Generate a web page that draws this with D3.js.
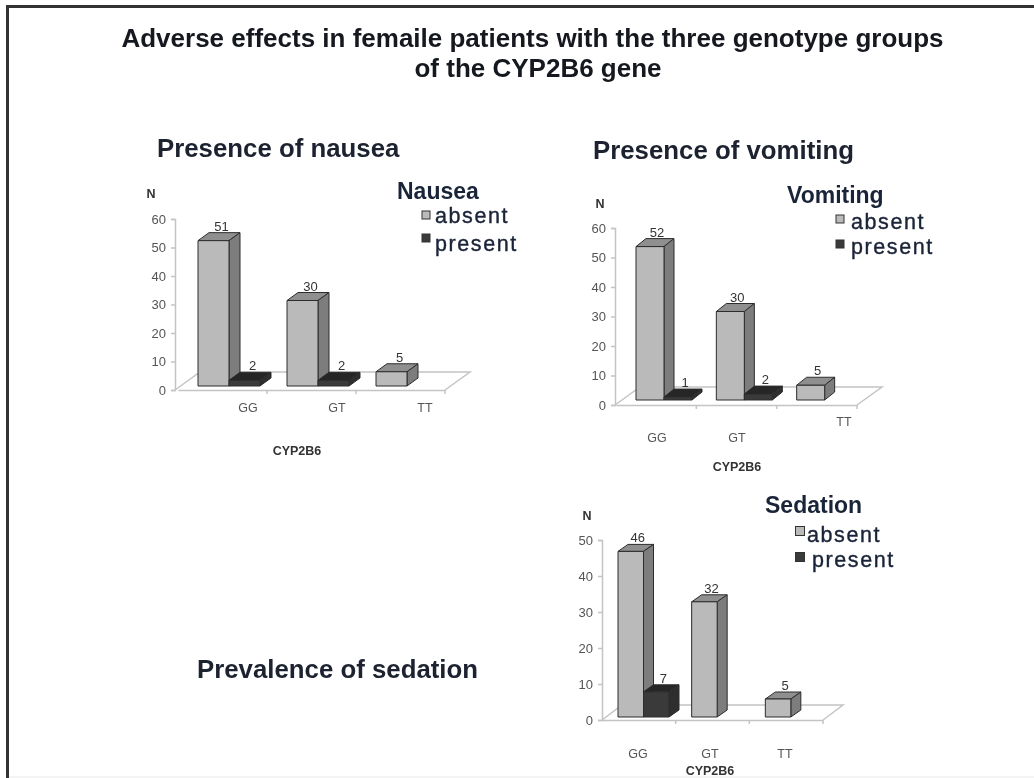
<!DOCTYPE html>
<html>
<head>
<meta charset="utf-8">
<script src="https://cdnjs.cloudflare.com/ajax/libs/d3/7.8.5/d3.min.js"></script>
<style>
  html, body { margin: 0; padding: 0; background: #fff; overflow: hidden; }
  svg { display: block; font-family: "Liberation Sans", Arial, sans-serif; filter: blur(0.5px); }
  .frame { fill: none; stroke: #333; stroke-width: 3; }
  .page-edge { stroke: #e8e8e8; stroke-width: 1; }
  .title { font-size: 26px; font-weight: bold; fill: #15181f; text-anchor: middle; }
  .heading { font-size: 25.8px; font-weight: bold; fill: #1c2230; }
  .legend-title { font-size: 23px; font-weight: bold; fill: #1a2438; }
  .legend-label { font-size: 21.5px; fill: #1a2438; stroke: #1a2438; stroke-width: 0.4; letter-spacing: 1.6px; }
  .tick text { font-size: 13px; fill: #555; }
  .cat-label { font-size: 12.5px; fill: #555; }
  .axis-name { font-size: 12.5px; font-weight: bold; fill: #333; text-anchor: middle; }
  .value-label { font-size: 13px; fill: #333; text-anchor: middle; }
  .axis path, .axis line, .floor { stroke: #c4c4c4; stroke-width: 1.5; fill: none; }
  .bar-face { stroke: #2c2c2c; stroke-width: 1; stroke-linejoin: round; }
</style>
</head>
<body>
<svg id="chart" width="1034" height="778"></svg>
<script>
const width = 1034, height = 778;

// ---------- data

const categories = ['GG', 'GT', 'TT'];
const groups = ['absent', 'present'];

const nauseaAbsent = [51, 30, 5];
const nauseaPresent = [2, 2, 0];
const vomitingAbsent = [52, 30, 5];
const vomitingPresent = [1, 2, 0];
const sedationAbsent = [46, 32, 5];
const sedationPresent = [7, 0, 0];

const titleLines = [
  'Adverse effects in femaile patients with the three genotype groups',
  'of the CYP2B6 gene'
];

// ---------- where each small chart sits

const panels = [
  {
    name: 'Nausea', heading: 'Presence of nausea', headingPos: [157, 157],
    absent: nauseaAbsent, present: nauseaPresent, yMax: 60,
    x0: 178, x1: 445, y0: 390, yTop: 219, axisX: 175,
    barOffset: 20, barW: 31, lift: 4, dx: 11, dy: 8, floorDx: 25, floorDy: 18,
    catPos: [[248, 412], [337, 412], [425, 412]], axisName: [297, 455], nPos: [151, 198],
    legendTitle: [397, 199], legendText: [[435, 223], [435, 251]], legendMark: [[426, 215], [426, 238]], markSize: 8
  },
  {
    name: 'Vomiting', heading: 'Presence of vomiting', headingPos: [593, 159],
    absent: vomitingAbsent, present: vomitingPresent, yMax: 60,
    x0: 616, x1: 857, y0: 405, yTop: 228, axisX: 615,
    barOffset: 20, barW: 28, lift: 5, dx: 10, dy: 8, floorDx: 25, floorDy: 18,
    catPos: [[657, 442], [737, 442], [844, 426]], axisName: [737, 471], nPos: [600, 208],
    legendTitle: [787, 203], legendText: [[851, 229], [851, 254]], legendMark: [[840, 219], [840, 244]], markSize: 8
  },
  {
    name: 'Sedation', heading: 'Prevalence of sedation', headingPos: [197, 678],
    absent: sedationAbsent, present: sedationPresent, yMax: 50,
    x0: 602, x1: 823, y0: 720, yTop: 540, axisX: 602,
    barOffset: 16, barW: 25.5, lift: 3, dx: 10, dy: 7, floorDx: 20, floorDy: 15,
    catPos: [[638, 758], [710, 758], [785, 758]], axisName: [710, 775], nPos: [587, 520],
    legendTitle: [765, 513], legendText: [[807, 542], [812, 567]], legendMark: [[800, 531], [800, 557]], markSize: 9
  }
];

const faceColors = {
  absent: { front: '#bababa', top: '#8f8f8f', side: '#7d7d7d' },
  present: { front: '#3a3a3a', top: '#262626', side: '#2e2e2e' }
};

const svg = d3.select('#chart');

// page frame, only top and left edges are visible in the crop
svg.append('path')
  .attr('class', 'frame')
  .attr('d', d3.line()([[7.5, height], [7.5, 6.5], [width, 6.5]]));

svg.append('line')
  .attr('class', 'page-edge')
  .attr('x1', 9).attr('x2', width)
  .attr('y1', 777).attr('y2', 777);

// second title line is not quite centred under the first
svg.selectAll('.title')
  .data(titleLines)
  .join('text')
  .attr('class', 'title')
  .attr('x', (d, i) => i === 0 ? 532.5 : 538)
  .attr('y', (d, i) => 47 + i * 30)
  .text(d => d);

panels.forEach(drawPanel);

function drawPanel(p) {
  const g = svg.append('g');

  const yScale = d3.scaleLinear().domain([0, p.yMax]).range([p.y0, p.yTop]);
  const xScale = d3.scaleBand().domain(categories).range([p.x0, p.x1]);
  const groupScale = d3.scaleBand().domain(groups).range([0, p.barW * 2]);

  g.append('text')
    .attr('class', 'heading')
    .attr('x', p.headingPos[0])
    .attr('y', p.headingPos[1])
    .text(p.heading);

  // floor of the 3d plot
  g.append('path')
    .attr('class', 'floor')
    .attr('d', d3.line()([
      [p.axisX, p.y0],
      [p.axisX + p.floorDx, p.y0 - p.floorDy],
      [p.x1 + p.floorDx, p.y0 - p.floorDy],
      [p.x1, p.y0]
    ]));

  g.append('g')
    .attr('class', 'axis')
    .attr('transform', `translate(${p.axisX}, 0)`)
    .call(d3.axisLeft(yScale).ticks(p.yMax / 10).tickSize(4).tickPadding(5));

  g.append('g')
    .attr('class', 'axis')
    .attr('transform', `translate(0, ${p.y0})`)
    .call(d3.axisBottom(xScale).tickSize(0).tickFormat(''))
    .call(a => a.selectAll('.tick line').remove());

  // tick marks sit on the band edges, not the centres
  g.selectAll('.band-tick')
    .data(categories)
    .join('line')
    .attr('class', 'floor band-tick')
    .attr('x1', d => xScale(d) + xScale.bandwidth())
    .attr('x2', d => xScale(d) + xScale.bandwidth())
    .attr('y1', p.y0)
    .attr('y2', p.y0 + 4);

  const rows = [];
  categories.forEach((c, i) => {
    rows.push({ category: c, group: 'absent', value: p.absent[i] });
    rows.push({ category: c, group: 'present', value: p.present[i] });
  });
  const shown = rows.filter(d => d.value > 0);

  const barX = d => xScale(d.category) + p.barOffset + groupScale(d.group);
  const barTop = d => yScale(d.value) - p.lift;
  const barBase = p.y0 - p.lift;
  const w = groupScale.bandwidth();

  const bars = g.selectAll('.bar')
    .data(shown)
    .join('g')
    .attr('class', 'bar');

  bars.append('path')
    .attr('class', 'bar-face')
    .attr('fill', d => faceColors[d.group].top)
    .attr('d', d => d3.line()([
      [barX(d), barTop(d)],
      [barX(d) + p.dx, barTop(d) - p.dy],
      [barX(d) + w + p.dx, barTop(d) - p.dy],
      [barX(d) + w, barTop(d)]
    ]) + 'Z');

  bars.append('path')
    .attr('class', 'bar-face')
    .attr('fill', d => faceColors[d.group].side)
    .attr('d', d => d3.line()([
      [barX(d) + w, barTop(d)],
      [barX(d) + w + p.dx, barTop(d) - p.dy],
      [barX(d) + w + p.dx, barBase - p.dy],
      [barX(d) + w, barBase]
    ]) + 'Z');

  bars.append('rect')
    .attr('class', 'bar-face')
    .attr('fill', d => faceColors[d.group].front)
    .attr('x', barX)
    .attr('y', barTop)
    .attr('width', w)
    .attr('height', d => barBase - barTop(d));

  bars.append('text')
    .attr('class', 'value-label')
    .attr('x', d => barX(d) + w / 2 + p.dx - 3)
    .attr('y', d => barTop(d) - p.dy - 2)
    .text(d => d.value);

  g.selectAll('.cat-label')
    .data(categories)
    .join('text')
    .attr('class', 'cat-label')
    .attr('text-anchor', 'middle')
    .attr('x', (d, i) => p.catPos[i][0])
    .attr('y', (d, i) => p.catPos[i][1])
    .text(d => d);

  g.append('text')
    .attr('class', 'axis-name')
    .attr('x', p.axisName[0])
    .attr('y', p.axisName[1])
    .text('CYP2B6');

  g.append('text')
    .attr('class', 'axis-name')
    .attr('x', p.nPos[0])
    .attr('y', p.nPos[1])
    .text('N');

  // legend
  g.append('text')
    .attr('class', 'legend-title')
    .attr('x', p.legendTitle[0])
    .attr('y', p.legendTitle[1])
    .text(p.name);

  groups.forEach((name, i) => {
    g.append('rect')
      .attr('x', p.legendMark[i][0] - p.markSize / 2)
      .attr('y', p.legendMark[i][1] - p.markSize / 2)
      .attr('width', p.markSize)
      .attr('height', p.markSize)
      .attr('fill', faceColors[name].front)
      .attr('stroke', '#333');
    g.append('text')
      .attr('class', 'legend-label')
      .attr('x', p.legendText[i][0])
      .attr('y', p.legendText[i][1])
      .text(name);
  });
}
</script>
</body>
</html>
